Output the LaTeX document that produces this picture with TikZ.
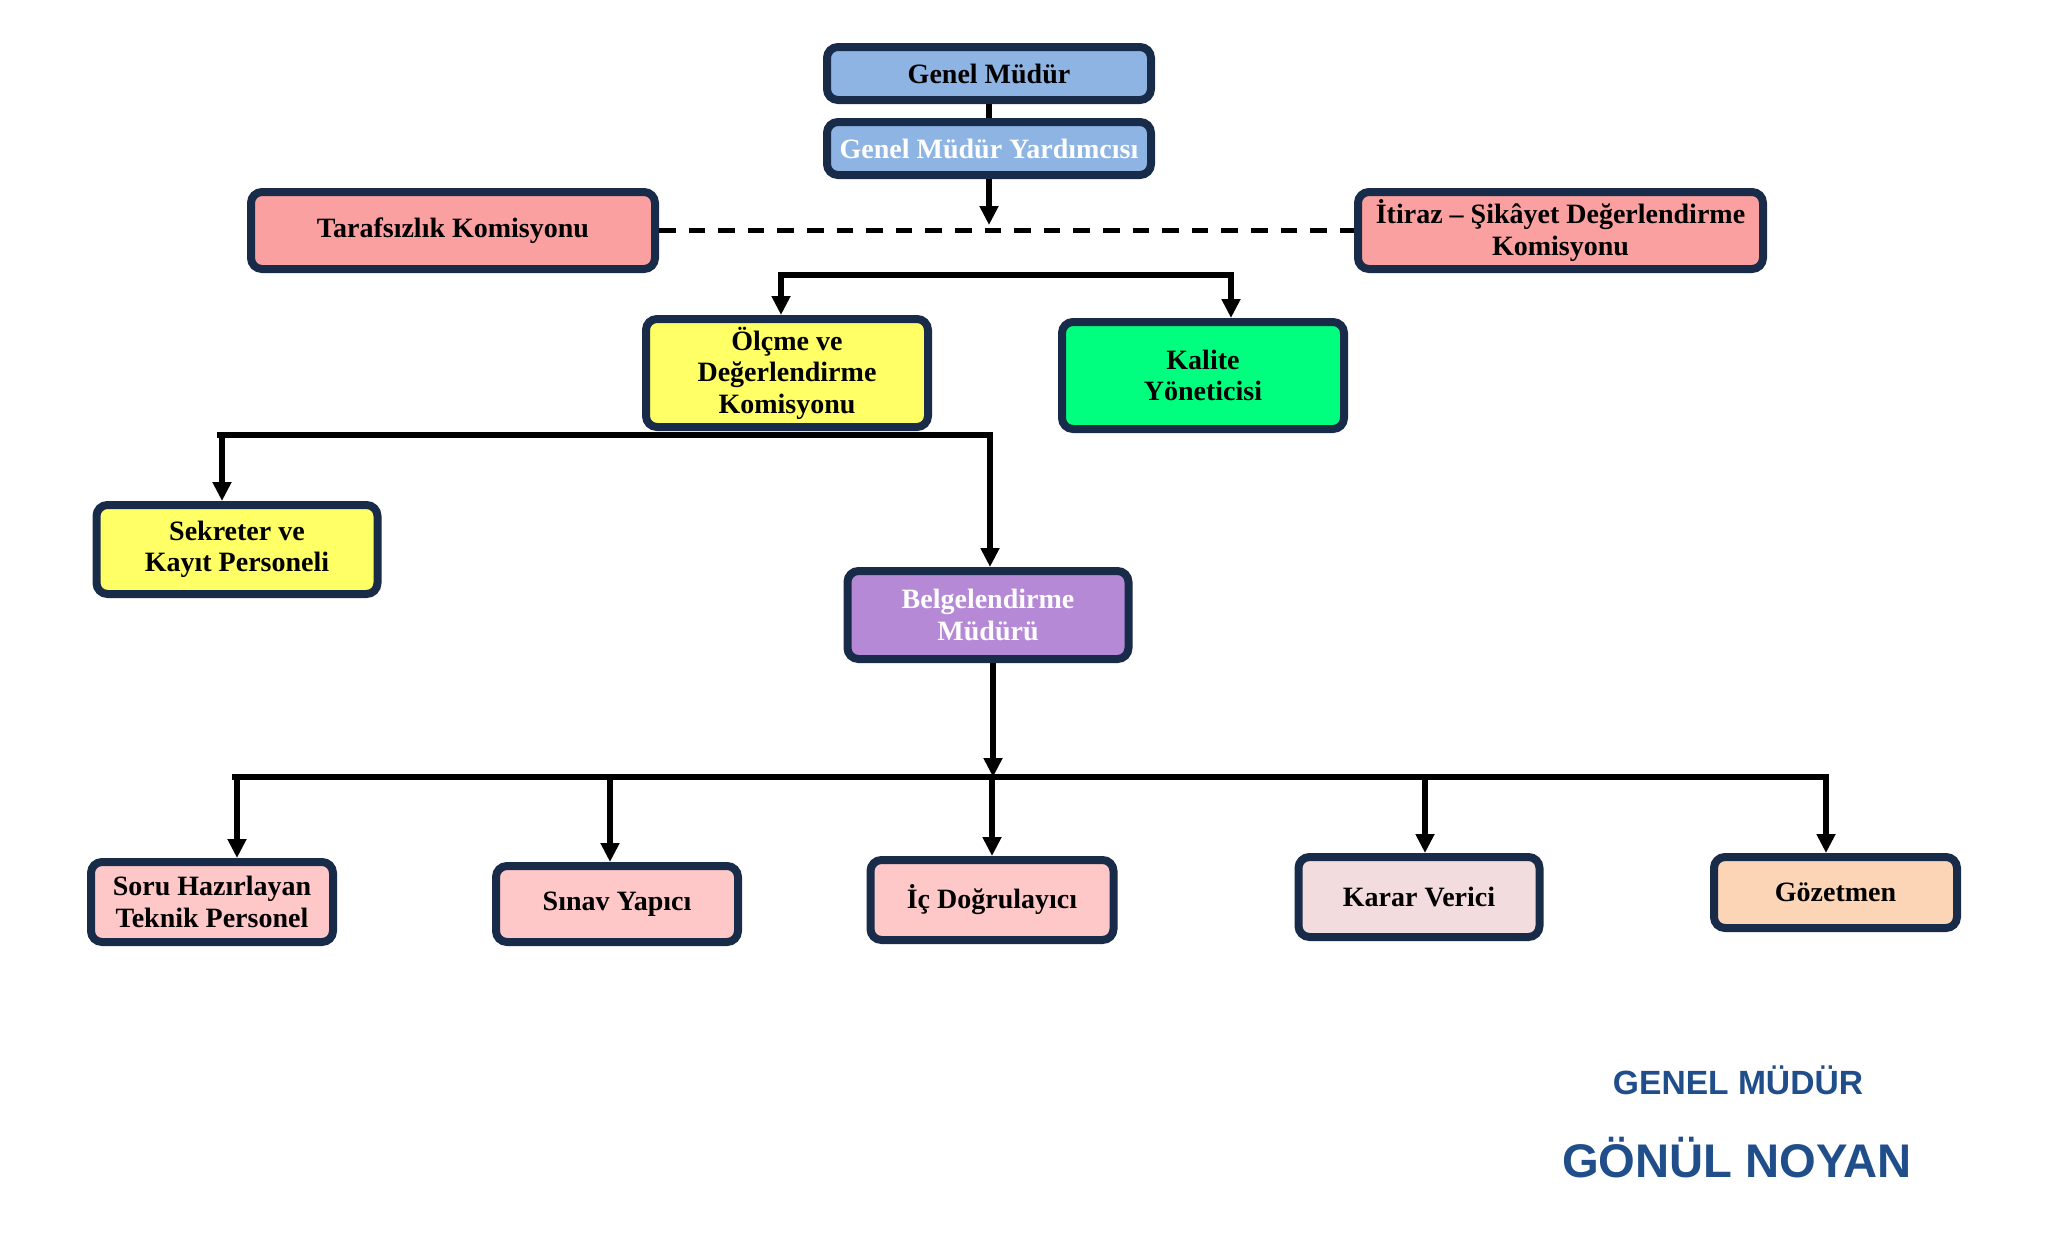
\documentclass[tikz,border=0pt]{standalone}
\usepackage{fontspec}
\setmainfont{Liberation Serif}
\newfontfamily\sigfont{Liberation Sans}
\usetikzlibrary{arrows.meta}
\definecolor{navy}{RGB}{24,44,74}
\definecolor{blueF}{RGB}{142,180,227}
\definecolor{pinkF}{RGB}{250,160,160}
\definecolor{yellowF}{RGB}{255,255,102}
\definecolor{greenF}{RGB}{0,255,127}
\definecolor{purpleF}{RGB}{181,137,214}
\definecolor{lpinkF}{RGB}{255,200,200}
\definecolor{kararF}{RGB}{242,220,221}
\definecolor{gozF}{RGB}{251,213,181}
\definecolor{sigblue}{RGB}{31,78,138}
\begin{document}
\begin{tikzpicture}[x=0.5pt,y=-0.5pt,
  box/.style={draw=navy, line width=4pt, rounded corners=5.5pt, inner sep=0pt,
    align=center, text=black, font=\bfseries\fontsize{14}{15.75}\selectfont},
  conn/.style={line width=2.7pt, black},
  arr/.style={conn, -{Triangle[width=9pt,length=9.5pt]}},
  bar/.style={line width=3.2pt, black, line cap=rect},
  dashline/.style={line width=2.5pt, black, dash pattern=on 8.3pt off 6.5pt},
  sigA/.style={text=sigblue, font=\sigfont\bfseries\fontsize{16.8}{18}\selectfont, inner sep=0pt, anchor=base},
  sigB/.style={text=sigblue, font=\sigfont\bfseries\fontsize{23.6}{25}\selectfont, inner sep=0pt, anchor=base},
]
\useasboundingbox[fill=white] (0,0) rectangle (2047,1239);

% boxes
\node[box, fill=blueF, minimum width=162pt, minimum height=26.5pt] (gm) at (989,73.5) {Genel Müdür};
\node[box, fill=blueF, text=white, minimum width=162pt, minimum height=26.5pt] (gmy) at (989,148.5) {Genel Müdür Yardımcısı};
\node[box, fill=pinkF, minimum width=202pt, minimum height=38.5pt] (taraf) at (453,230.5) {Tarafsızlık Komisyonu};
\node[box, fill=pinkF, minimum width=202.5pt, minimum height=38.5pt] (itiraz) at (1560.5,230.5) {İtiraz – Şikâyet Değerlendirme\\Komisyonu};
\node[box, fill=yellowF, minimum width=141pt, minimum height=54pt] (olcme) at (787,373) {Ölçme ve\\Değerlendirme\\Komisyonu};
\node[box, fill=greenF, minimum width=141pt, minimum height=53.5pt] (kalite) at (1203,375.5) {Kalite\\Yöneticisi};
\node[box, fill=yellowF, minimum width=140.5pt, minimum height=44.5pt] (sekreter) at (237,549.5) {Sekreter ve\\Kayıt Personeli};
\node[box, fill=purpleF, text=white, minimum width=140.5pt, minimum height=44pt] (belge) at (988,615) {Belgelendirme\\Müdürü};
\node[box, fill=lpinkF, minimum width=121pt, minimum height=40pt] (soru) at (212,902) {Soru Hazırlayan\\Teknik Personel};
\node[box, fill=lpinkF, minimum width=121pt, minimum height=38pt] (sinav) at (617,904) {Sınav Yapıcı};
\node[box, fill=lpinkF, minimum width=121.5pt, minimum height=40pt] (ic) at (992,900) {İç Doğrulayıcı};
\node[box, fill=kararF, minimum width=120.5pt, minimum height=40pt] (karar) at (1419,897) {Karar Verici};
\node[box, fill=gozF, minimum width=121.5pt, minimum height=35.5pt] (gozet) at (1835.5,892.5) {Gözetmen};

% top connectors
\draw[conn, line width=3.4pt] (gm.south) -- (gmy.north);
\coordinate (gmyend) at (989,225);
\draw[arr] (gmy.south) -- (gmyend);
\draw[dashline] (taraf.east) -- (itiraz.west);

% bar 1
\coordinate (b1L) at (781,275);
\coordinate (b1R) at (1231,275);
\draw[bar] (b1L) -- (b1R);
\draw[arr] (b1L) -- (b1L |- olcme.north);
\draw[arr] (b1R) -- (b1R |- kalite.north);

% bar 2
\coordinate (b2L) at (220,435);
\coordinate (b2R) at (990,435);
\coordinate (b2a) at (222,435);
\draw[bar] (b2L) -- (b2R);
\draw[arr] (b2a) -- (b2a |- sekreter.north);
\draw[arr] (b2R) -- (b2R |- belge.north);

% bar 3
\coordinate (b3M) at (993,777);
\draw[arr] (b3M |- belge.south) -- (b3M);
\coordinate (b3L) at (235,777);
\coordinate (b3R) at (1826,777);
\draw[bar] (b3L) -- (b3R);
\coordinate (d1) at (237,777);
\coordinate (d2) at (610,777);
\coordinate (d3) at (992,777);
\coordinate (d4) at (1425,777);
\coordinate (d5) at (1826,777);
\draw[arr] (d1) -- (d1 |- soru.north);
\draw[arr] (d2) -- (d2 |- sinav.north);
\draw[arr] (d3) -- (d3 |- ic.north);
\draw[arr] (d4) -- (d4 |- karar.north);
\draw[arr] (d5) -- (d5 |- gozet.north);

% signature
\node[sigA] (sigtitle) at (1738,1094) {GENEL MÜDÜR};
\node[sigB] (signame) at (1737,1177) {GÖNÜL NOYAN};
\end{tikzpicture}
\end{document}
